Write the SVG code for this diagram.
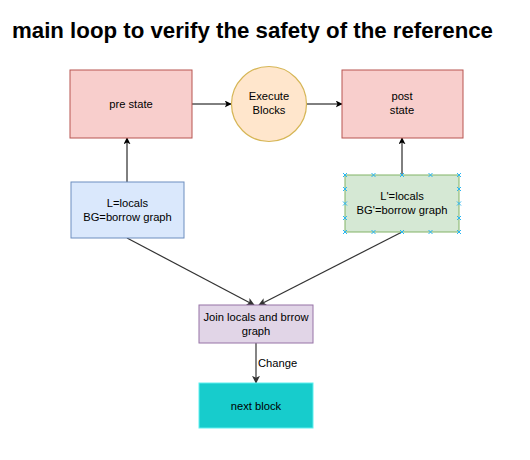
<svg xmlns="http://www.w3.org/2000/svg" width="530" height="460" viewBox="0 0 530 460">
<style>
text{font-family:"Liberation Sans",Arial,sans-serif;fill:#000}
.t{font-size:11.2px;text-anchor:middle}
.title{font-size:21.5px;font-weight:bold;text-anchor:middle}
.edge{stroke:#000;stroke-width:1;fill:none}
.diag{stroke:#333;stroke-width:1.2;fill:none}
.h{stroke:#29b6f2;stroke-width:1;fill:none}
</style>
<defs>
<marker id="ah" viewBox="0 0 10 10" refX="9" refY="5" markerWidth="7" markerHeight="7" markerUnits="userSpaceOnUse" orient="auto">
<path d="M0,0 L10,5 L0,10 L2.5,5 Z" fill="#000"/>
</marker>
<marker id="ah2" viewBox="0 0 10 10" refX="9" refY="5" markerWidth="8" markerHeight="8" markerUnits="userSpaceOnUse" orient="auto">
<path d="M0,0 L10,5 L0,10 L2.5,5 Z" fill="#333"/>
</marker>
</defs>
<rect width="530" height="460" fill="#fff"/>
<text class="title" x="252.5" y="38" textLength="481" lengthAdjust="spacingAndGlyphs">main loop to verify the safety of the reference</text>
<g id="connectors">
<line class="edge" x1="192" y1="104" x2="231" y2="104" marker-end="url(#ah)"/>
<line class="edge" x1="307" y1="104" x2="342" y2="104" marker-end="url(#ah)"/>
<line class="edge" x1="127" y1="182" x2="127" y2="138" marker-end="url(#ah)"/>
<line class="edge" x1="402" y1="175" x2="402" y2="138" marker-end="url(#ah)"/>
<line class="diag" x1="127" y1="238" x2="254" y2="305" marker-end="url(#ah2)"/>
<line class="diag" x1="402" y1="232" x2="259" y2="305" marker-end="url(#ah2)"/>
<line class="diag" x1="256" y1="343" x2="256" y2="383" marker-end="url(#ah2)"/>
<text x="258" y="367" style="font-size:11.2px">Change</text>
</g>
<g id="pre-state">
<rect x="70" y="70" width="122" height="68" fill="#f8cecc" stroke="#b85450"/>
<text class="t" x="131" y="108">pre state</text>
</g>
<g id="execute-blocks">
<circle cx="269" cy="104" r="37.5" fill="#ffe6cc" stroke="#d6b656" stroke-width="1.2"/>
<text class="t" x="269" y="100">Execute</text>
<text class="t" x="269" y="114">Blocks</text>
</g>
<g id="post-state">
<rect x="342" y="70" width="121" height="68" fill="#f8cecc" stroke="#b85450"/>
<text class="t" x="402" y="100">post</text>
<text class="t" x="402" y="114">state</text>
</g>
<g id="locals">
<rect x="71" y="182" width="113" height="56" fill="#dae8fc" stroke="#6c8ebf"/>
<text class="t" x="127.5" y="207">L=locals</text>
<text class="t" x="127.5" y="221">BG=borrow graph</text>
</g>
<g id="post-locals">
<rect x="345" y="175" width="114" height="57" fill="#d5e8d4" stroke="#82b366"/>
<text class="t" x="402" y="200">L'=locals</text>
<text class="t" x="402" y="214">BG'=borrow graph</text>
<path class="h" d="M343,173l4,4m0,-4l-4,4 M371.5,173l4,4m0,-4l-4,4 M400,173l4,4m0,-4l-4,4 M428.5,173l4,4m0,-4l-4,4 M457,173l4,4m0,-4l-4,4 M343,230l4,4m0,-4l-4,4 M371.5,230l4,4m0,-4l-4,4 M400,230l4,4m0,-4l-4,4 M428.5,230l4,4m0,-4l-4,4 M457,230l4,4m0,-4l-4,4 M343,187l4,4m0,-4l-4,4 M343,201.5l4,4m0,-4l-4,4 M343,216l4,4m0,-4l-4,4 M457,187l4,4m0,-4l-4,4 M457,201.5l4,4m0,-4l-4,4 M457,216l4,4m0,-4l-4,4"/>
</g>
<g id="join">
<rect x="199" y="305" width="114" height="38" fill="#e1d5e7" stroke="#9673a6"/>
<text class="t" x="256" y="321">Join locals and brrow</text>
<text class="t" x="256" y="335">graph</text>
</g>
<g id="next-block">
<rect x="199" y="383" width="114" height="45" fill="#17cccc" stroke="#5ff0f0"/>
<text class="t" x="256" y="410">next block</text>
</g>
</svg>
